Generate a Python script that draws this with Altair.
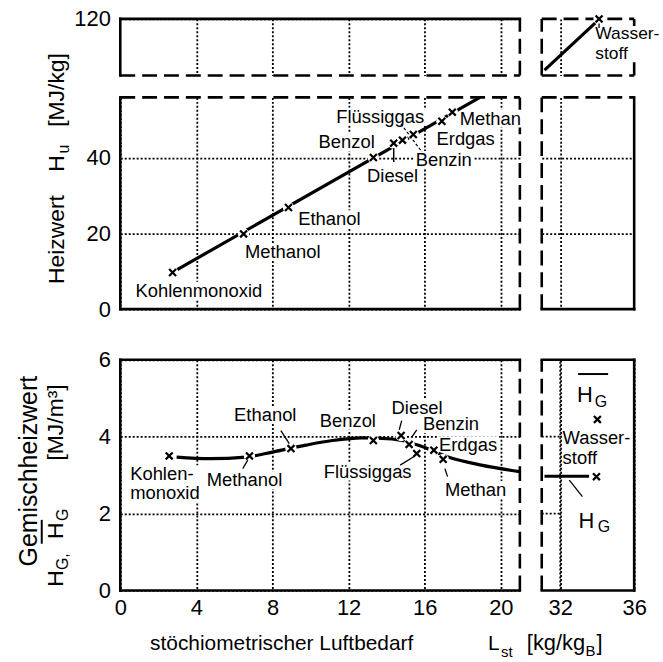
import altair as alt
import pandas as pd

FONT = "Liberation Sans"
XPATH = "M-1,-1L1,1M-1,1L1,-1"

# ---------------- data ----------------
# Heizwert H_u [MJ/kg] over L_st
hu_names = ["Kohlenmonoxid", "Methanol", "Ethanol", "Benzol", "Diesel", "Benzin", "Flüssiggas", "Erdgas", "Methan"]
hu_lst = [2.75, 6.48, 8.84, 13.3, 14.37, 14.83, 15.4, 16.9, 17.45]
hu_val = [9.7, 19.9, 26.9, 40.1, 43.9, 44.7, 46.2, 49.7, 52.1]
hu_fit_lst = [2.9, 18.9]
hu_fit_val = [10.2, 56.0]
hu_lab_x = [4.13, 8.54, 10.99, 11.9, 14.31, 17.0, 13.66, 18.15, 19.45]
hu_lab_y = [4.9, 15.1, 23.8, 44.1, 35.3, 39.5, 50.9, 44.9, 50.4]
hu_lead_x = [14.37, 14.75]
hu_lead_x2 = [14.37, 15.85]
hu_lead_y = [42.6, 49.0]
hu_lead_y2 = [38.9, 41.6]

# Wasserstoff (upper break)
h2_lst = [34.1]
h2_hu = [120.0]
h2_line_lst = [31.15, 33.9]
h2_line_hu = [101.9, 118.6]
h2_lab = ["Wasser-\nstoff"]
h2_lab_x = [33.9]
h2_lab_y = [114.5]
h2_lead_y = [118.4]
h2_lead_y2 = [116.8]

# Gemischheizwert H_G [MJ/m3]
hg_lst = [2.57, 6.79, 8.97, 13.3, 14.76, 15.18, 15.58, 16.48, 16.97]
hg_val = [3.50, 3.50, 3.69, 3.90, 4.03, 3.80, 3.56, 3.65, 3.41]
hg_curve_lst = [2.96, 4.70, 6.61, 8.0, 9.75, 11.14, 12.7, 14.27, 15.67, 17.23, 18.97, 20.98]
hg_curve_val = [3.47, 3.43, 3.47, 3.60, 3.78, 3.90, 3.97, 3.94, 3.78, 3.47, 3.26, 3.09]
hg_lab = ["Kohlen-\nmonoxid", "Methanol", "Ethanol", "Benzol", "Diesel", "Benzin", "Erdgas", "Flüssiggas", "Methan"]
hg_lab_x = [0.52, 6.53, 7.62, 11.96, 15.6, 17.38, 18.28, 13.0, 18.67]
hg_lab_y = [3.03, 2.86, 4.56, 4.41, 4.75, 4.32, 3.78, 3.09, 2.62]
hg_lab_align = ["left", "center", "center", "center", "center", "center", "center", "center", "center"]
hg_lead_x = [8.44, 6.44, 14.79, 15.58, 14.71, 17.06]
hg_lead_x2 = [8.88, 6.70, 14.66, 15.32, 15.40, 17.2]
hg_lead_y = [4.16, 3.17, 4.42, 4.18, 3.26, 3.17]
hg_lead_y2 = [3.82, 3.39, 4.18, 3.99, 3.47, 2.96]

# Wasserstoff (right break, lower panel)
h2g_lst = [34.01, 33.96]
h2g_val = [4.45, 2.96]
h2g_line_lst = [31.15, 33.56]
h2g_line_val = [2.97, 2.97]
h2g_lab = ["Wasser-\nstoff"]
h2g_lab_x = [32.13]
h2g_lab_y = [3.96]
h2g_lead_x, h2g_lead_x2, h2g_lead_y, h2g_lead_y2 = [32.49], [33.2], [2.87], [2.44]
hgsym_main = ["H", "H"]
hgsym_main_x = [33.34, 33.42]
hgsym_main_y = [5.09, 1.81]
hgsym_sub = ["G", "G"]
hgsym_sub_x = [34.2, 34.36]
hgsym_sub_y = [4.91, 1.64]
hgbar_x, hgbar_x2, hgbar_y = [32.97], [34.59], [5.63]
grid_short_y = [2, 4]

# axis ticks
x_ticks_left = [0, 4, 8, 12, 16, 20]
x_ticks_right = [32, 36]
y_ticks_top = [120]
y_ticks_mid = [0, 20, 40]
y_ticks_bot = [0, 2, 4, 6]

# ---------------- scales / geometry ----------------
XL = [0, 21]
XR = [31, 36]
YT = [100, 120]
YM = [0, 56]
YB = [0, 6]
WL, WR = 402, 93
HT, HM, HB = 57, 213, 232
LFS = 18.5  # label font size
LH = 19.5   # line height of two-line labels

# approximate Arial advance widths (em/1000) for the label boxes
CW = {"a": 556, "b": 556, "c": 500, "d": 556, "e": 556, "f": 278, "g": 556, "h": 556, "i": 222,
      "k": 500, "l": 222, "m": 833, "n": 556, "o": 556, "r": 333, "s": 500, "t": 278, "u": 556,
      "w": 722, "x": 500, "z": 500, "ü": 556, "B": 667, "D": 722, "E": 667, "F": 611, "K": 667,
      "M": 833, "W": 944, "-": 333}


def twidth(s, size):
    return max(sum(CW.get(c, 556) for c in part) for part in s.split("\n")) / 1000 * size


def nlines(s):
    return len(s.split("\n"))


def sc(d):
    return alt.Scale(domain=d, nice=False, zero=False)


def ax(values, labels, orient, grid=True):
    return alt.Axis(values=values, labels=labels, grid=grid, ticks=False, domain=False, title=None,
                    labelFlush=False, labelOverlap=False, orient=orient,
                    labelPadding=7 if orient == "bottom" else 10)


class P:
    def __init__(self, xd, yd, w, h, xa, ya):
        self.xd, self.yd, self.w, self.h, self.xa, self.ya = xd, yd, w, h, xa, ya
        self.pxx = w / (xd[1] - xd[0])
        self.pxy = h / (yd[1] - yd[0])

    def enc(self, two=False):
        e = dict(x=alt.X("x:Q", scale=sc(self.xd), axis=self.xa),
                 y=alt.Y("y:Q", scale=sc(self.yd), axis=self.ya))
        if two:
            e["x2"] = "x2:Q"
            e["y2"] = "y2:Q"
        return e


def frame(p, styles):
    x0, x1 = p.xd
    y0, y1 = p.yd
    rows = [
        dict(x=x0, x2=x1, y=y1, y2=y1, s=styles[0]),
        dict(x=x0, x2=x1, y=y0, y2=y0, s=styles[1]),
        dict(x=x0, x2=x0, y=y0, y2=y1, s=styles[2]),
        dict(x=x1, x2=x1, y=y0, y2=y1, s=styles[3]),
    ]
    df = pd.DataFrame(rows)
    solid = alt.Chart(df).transform_filter(alt.datum.s == "solid").mark_rule(
        color="black", strokeWidth=2.6, strokeCap="square").encode(**p.enc(True))
    dashed = alt.Chart(df).transform_filter(alt.datum.s == "dashed").mark_rule(
        color="black", strokeWidth=2.6, strokeDash=[15, 7], strokeCap="butt").encode(**p.enc(True))
    return [solid, dashed]


def boxes(p, df, size, align="center"):
    w = df["t"].map(lambda s: twidth(s, size) + 4) / p.pxx
    half = size * 0.48
    top = df["y"] + half / p.pxy
    bottom = df["y"] - df["t"].map(lambda s: half + (nlines(s) - 1) * LH) / p.pxy
    if align == "left":
        x = df["x"] - 2 / p.pxx
        x2 = x + w
    else:
        x = df["x"] - w / 2
        x2 = df["x"] + w / 2
    b = pd.DataFrame({"x": x, "x2": x2, "y": bottom, "y2": top})
    return alt.Chart(b).mark_rect(color="white", opacity=1).encode(**p.enc(True))


def texts(p, df, size=LFS, align="center", baseline="middle"):
    e = p.enc()
    e["text"] = alt.Text("t:N")
    return alt.Chart(df).mark_text(font=FONT, fontSize=size, align=align, baseline=baseline,
                                   lineBreak="\n", lineHeight=LH, color="black").encode(**e)


def markers(p, df):
    h = alt.Chart(df).mark_point(shape="circle", size=130, filled=True, color="white", opacity=1,
                                 strokeWidth=0).encode(**p.enc())
    m = alt.Chart(df).mark_point(shape=XPATH, size=49, filled=False, color="black", opacity=1,
                                 strokeWidth=2.2).encode(**p.enc())
    return [h, m]


def line(p, df, interp="linear", width=3.2):
    return alt.Chart(df).mark_line(color="black", strokeWidth=width, interpolate=interp,
                                   strokeCap="butt").encode(**p.enc())


def rules(p, df, width=1.3, dash=None):
    kw = dict(color="black", strokeWidth=width, opacity=1)
    if dash:
        kw["strokeDash"] = dash
    return alt.Chart(df).mark_rule(**kw).encode(**p.enc(True))


ONE = pd.DataFrame({"k": [0]})


def ptext(txt, x, y, size, angle=0, align="center", baseline="alphabetic"):
    kw = dict(text=txt, font=FONT, fontSize=size, align=align, baseline=baseline, color="black")
    if angle:
        kw["angle"] = angle
    return alt.Chart(ONE).mark_text(**kw).encode(x=alt.value(x), y=alt.value(y))


# ---------------- panels ----------------
# top-left (empty break region)
pTL = P(XL, YT, WL, HT, ax(x_ticks_left[1:], False, "bottom"), ax(y_ticks_top, True, "left"))
anchor = alt.Chart(ONE).mark_point(opacity=0, size=1, strokeWidth=0, filled=True).encode(
    x=alt.value(-120), y=alt.value(-16))
top_left = alt.layer(
    *frame(pTL, ["solid", "dashed", "solid", "dashed"]),
    anchor,
).properties(width=WL, height=HT)

# top-right (Wasserstoff)
pTR = P(XR, YT, WR, HT, ax(x_ticks_right[:1], False, "bottom"), None)
df_h2line = pd.DataFrame({"x": h2_line_lst, "y": h2_line_hu})
df_h2 = pd.DataFrame({"x": h2_lst, "y": h2_hu})
df_h2lab = pd.DataFrame({"x": h2_lab_x, "y": h2_lab_y, "t": h2_lab})
df_h2lead = pd.DataFrame({"x": h2_lst, "x2": h2_lst, "y": h2_lead_y, "y2": h2_lead_y2})
top_right = alt.layer(
    *frame(pTR, ["dashed", "dashed", "dashed", "dashed"]),
    boxes(pTR, df_h2lab, 17.5, align="left"),
    line(pTR, df_h2line), *markers(pTR, df_h2),
    rules(pTR, df_h2lead),
    texts(pTR, df_h2lab, size=17.5, align="left"),
).properties(width=WR, height=HT)

# middle-left (H_u)
pML = P(XL, YM, WL, HM, ax(x_ticks_left, False, "bottom"), ax(y_ticks_mid, True, "left"))
df_hufit = pd.DataFrame({"x": hu_fit_lst, "y": hu_fit_val})
df_hu = pd.DataFrame({"x": hu_lst, "y": hu_val})
df_hulab = pd.DataFrame({"x": hu_lab_x, "y": hu_lab_y, "t": hu_names})
df_hulead = pd.DataFrame({"x": hu_lead_x, "x2": hu_lead_x2, "y": hu_lead_y, "y2": hu_lead_y2})
mid_left = alt.layer(
    *frame(pML, ["dashed", "solid", "solid", "dashed"]),
    boxes(pML, df_hulab, LFS),
    line(pML, df_hufit), *markers(pML, df_hu),
    rules(pML, df_hulead.iloc[:1], width=1.5),
    rules(pML, df_hulead.iloc[1:], width=1.2, dash=[3, 2]),
    texts(pML, df_hulab),
    ptext("Heizwert", -57, 143, 23, angle=270),
    ptext("H", -57, 66.5, 23, angle=270),
    ptext("u", -52, 52, 16, angle=270),
    ptext("[MJ/kg]", -57, -7.5, 23, angle=270),
).properties(width=WL, height=HM)

# middle-right (empty)
pMR = P(XR, YM, WR, HM, ax(x_ticks_right[:1], False, "bottom"), ax([20, 40], False, "left"))
mid_right = alt.layer(
    *frame(pMR, ["dashed", "solid", "dashed", "solid"]),
).properties(width=WR, height=HM)


def spacer(w):
    return alt.Chart(ONE).mark_point(opacity=0, size=1).encode(
        x=alt.value(0), y=alt.value(0)).properties(width=w, height=7)


# bottom-left (H_G)
pBL = P(XL, YB, WL, HB, ax(x_ticks_left, True, "bottom"), ax(y_ticks_bot, True, "left"))
df_hgc = pd.DataFrame({"x": hg_curve_lst, "y": hg_curve_val})
df_hg = pd.DataFrame({"x": hg_lst, "y": hg_val})
df_hglab = pd.DataFrame({"x": hg_lab_x, "y": hg_lab_y, "t": hg_lab, "a": hg_lab_align})
df_hglead = pd.DataFrame({"x": hg_lead_x, "x2": hg_lead_x2, "y": hg_lead_y, "y2": hg_lead_y2})
lab_l = df_hglab[df_hglab.a == "left"].reset_index(drop=True)
lab_c = df_hglab[df_hglab.a == "center"].reset_index(drop=True)
bot_left = alt.layer(
    *frame(pBL, ["solid", "solid", "solid", "dashed"]),
    boxes(pBL, lab_l, LFS, align="left"), boxes(pBL, lab_c, LFS),
    line(pBL, df_hgc, interp="monotone"), *markers(pBL, df_hg),
    rules(pBL, df_hglead),
    texts(pBL, lab_l, align="left"), texts(pBL, lab_c),
    # y title
    ptext("Gemischheizwert", -84, 112, 25, angle=270),
    ptext("[MJ/m³]", -58, 63, 23, angle=270),
    ptext("H", -58, 172, 23, angle=270),
    ptext("G", -53, 156, 16, angle=270),
    ptext("H", -58, 220, 23, angle=270),
    ptext("G,", -53, 203, 16, angle=270),
    alt.Chart(ONE).mark_rule(color="black", strokeWidth=2).encode(
        x=alt.value(-79), y=alt.value(161), y2=alt.value(185)),
    # x title
    ptext("stöchiometrischer Luftbedarf", 30, 292, 21, align="left"),
    ptext("L", 370, 292, 21, align="left"),
    ptext("st", 383, 299, 15, align="left"),
    ptext("[kg/kg", 409, 292, 22, align="left"),
    ptext("B", 468, 298, 15, align="left"),
    ptext("]", 479, 292, 22, align="left"),
).properties(width=WL, height=HB)

# bottom-right (Wasserstoff, H_G)
pBR = P(XR, YB, WR, HB, ax(x_ticks_right, True, "bottom"), None)
df_h2g = pd.DataFrame({"x": h2g_lst, "y": h2g_val})
df_h2gline = pd.DataFrame({"x": h2g_line_lst, "y": h2g_line_val})
df_h2glab = pd.DataFrame({"x": h2g_lab_x, "y": h2g_lab_y, "t": h2g_lab})
df_h2glead = pd.DataFrame({"x": h2g_lead_x, "x2": h2g_lead_x2, "y": h2g_lead_y, "y2": h2g_lead_y2})
df_sym = pd.DataFrame({"x": hgsym_main_x, "y": hgsym_main_y, "t": hgsym_main})
df_sub = pd.DataFrame({"x": hgsym_sub_x, "y": hgsym_sub_y, "t": hgsym_sub})
df_bar = pd.DataFrame({"x": hgbar_x, "x2": hgbar_x2, "y": hgbar_y, "y2": hgbar_y})
# dotted grid pieces of the lower break panel, drawn as lines (one group per piece)
g_x, g_y, g_g = [], [], []
for i, yv in enumerate(grid_short_y):
    g_x += [XR[0], x_ticks_right[0]]
    g_y += [yv, yv]
    g_g += [f"h{i}", f"h{i}"]
g_x += [x_ticks_right[0], x_ticks_right[0]]
g_y += [YB[0], YB[1]]
g_g += ["v", "v"]
df_grid = pd.DataFrame({"x": g_x, "y": g_y, "g": g_g})
grid_lines = alt.Chart(df_grid).mark_line(color="black", strokeWidth=1.8, strokeDash=[2, 2],
                                          opacity=1).encode(**pBR.enc(), detail="g:N")
bot_right = alt.layer(
    *frame(pBR, ["solid", "solid", "dashed", "solid"]),
    line(pBR, df_h2gline), *markers(pBR, df_h2g),
    rules(pBR, df_h2glead),
    texts(pBR, df_h2glab, align="left"),
    texts(pBR, df_sym, size=22),
    texts(pBR, df_sub, size=16),
    rules(pBR, df_bar, width=2),
    grid_lines,
).properties(width=WR, height=HB)

chart = alt.concat(
    top_left, top_right,
    mid_left, mid_right,
    spacer(WL), spacer(WR),
    bot_left, bot_right,
    columns=2, spacing=22, bounds="flush", align="each",
).properties(padding=0).configure(font=FONT).configure_view(
    strokeOpacity=0
).configure_axis(
    gridColor="black", gridDash=[2, 2], gridWidth=1.8, gridOpacity=1,
    labelFont=FONT, labelFontSize=22, labelColor="black",
)

chart.save("out.html", embed_options={"renderer": "svg", "actions": False})
